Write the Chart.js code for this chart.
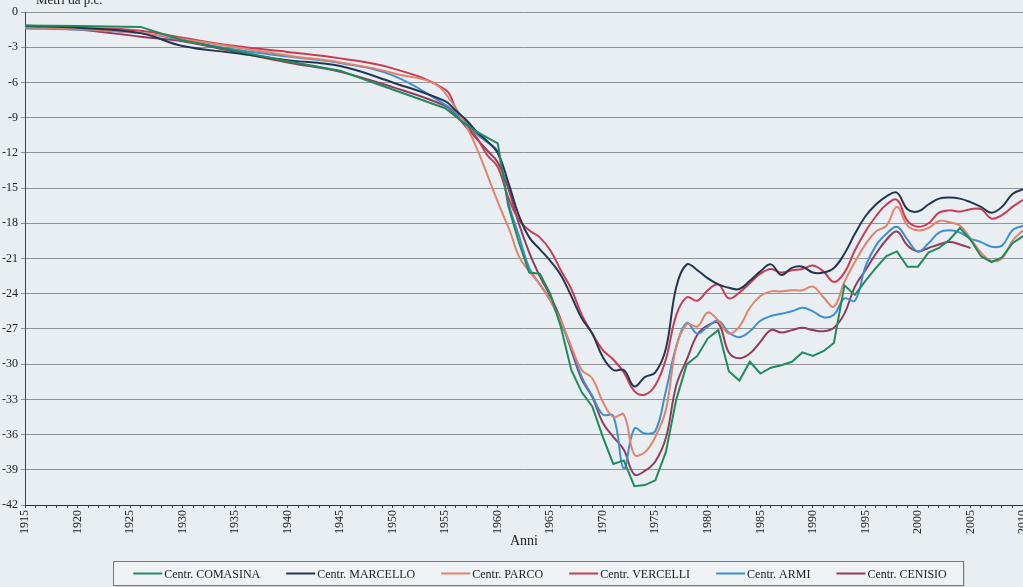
<!DOCTYPE html>
<html lang="it">
<head>
<meta charset="UTF-8">
<title>Metri da p.c. - Anni</title>
<script src="https://cdn.jsdelivr.net/npm/chart.js"></script>
<style>
    html, body {
        margin: 0;
        padding: 0;
        background: #e8eef1;
    }
    #wrap {
        width: 1023px;
        height: 587px;
        position: relative;
    }
</style>
</head>
<body>
<div id="wrap"><canvas id="chart"></canvas></div>
<script>
// sample years (sparse before 1955, yearly afterwards)
const years = [1915, 1920, 1926, 1930, 1935, 1940, 1945, 1950, 1955,
    1956, 1957, 1958, 1959, 1960, 1961, 1962, 1963, 1964, 1965,
    1966, 1967, 1968, 1969, 1970, 1971, 1972, 1973, 1974, 1975,
    1976, 1977, 1978, 1979, 1980, 1981, 1982, 1983, 1984, 1985,
    1986, 1987, 1988, 1989, 1990, 1991, 1992, 1993, 1994, 1995,
    1996, 1997, 1998, 1999, 2000, 2001, 2002, 2003, 2004, 2005,
    2006, 2007, 2008, 2009, 2010];

const seriesNames = ['Centr. COMASINA', 'Centr. MARCELLO', 'Centr. PARCO',
    'Centr. VERCELLI', 'Centr. ARMI', 'Centr. CENISIO'];

const comasina = [-1.15, -1.2, -1.27, -2.4, -3.3, -4.2, -5.0, -6.6, -8.2,
    -8.9, -9.6, -10.2, -10.7, -11.2, -16.5, -19.6, -22.2, -22.3, -24.0,
    -26.8, -30.5, -32.4, -33.6, -36.2, -38.5, -38.2, -40.4, -40.3, -39.9,
    -37.5, -33.0, -30.0, -29.3, -27.8, -27.1, -30.6, -31.4, -29.8, -30.8,
    -30.3, -30.1, -29.8, -29.0, -29.3, -28.9, -28.2, -23.3, -24.1, -22.9,
    -21.8, -20.8, -20.4, -21.7, -21.7, -20.5, -20.1, -19.4, -18.4, -19.4,
    -20.8, -21.3, -20.9, -19.7, -19.1];

const marcello = [-1.2, -1.35, -1.8, -2.9, -3.5, -4.1, -4.6, -6.0, -7.6,
    -8.4, -9.2, -10.2, -11.0, -12.0, -14.5, -17.3, -19.2, -20.2, -21.2,
    -22.4, -24.2, -26.1, -27.4, -29.4, -30.5, -30.5, -31.9, -31.1, -30.7,
    -28.7, -23.4, -21.5, -22.0, -22.7, -23.2, -23.5, -23.6, -22.9, -22.1,
    -21.5, -22.4, -21.8, -21.7, -22.2, -22.2, -21.8, -20.6, -18.9, -17.4,
    -16.4, -15.7, -15.4, -16.8, -17.0, -16.4, -15.9, -15.8, -15.9, -16.2,
    -16.6, -17.1, -16.6, -15.5, -15.1];

const parco = [-1.3, -1.45, -1.8, -2.3, -3.0, -3.7, -4.3, -5.2, -6.9,
    null, null, null, null, null, -18.3, -20.8, -22.1, -23.2, -24.6,
    -26.3, -28.5, -30.5, -31.2, -33.2, -34.5, -34.3, -37.7, -37.5, -36.2,
    -33.9, -28.5, -26.6, -26.8, -25.6, -26.3, -27.4, -26.8, -25.2, -24.2,
    -23.8, -23.8, -23.7, -23.7, -23.4, -24.3, -25.1, -23.0, -21.3, -19.8,
    -18.7, -18.2, -16.6, -18.2, -18.6, -18.4, -17.8, -17.9, -18.2, -19.3,
    -20.5, -21.2, -21.0, -19.5, -18.6];

const vercelli = [-1.15, -1.35, -1.6, -2.2, -2.9, -3.4, -3.95, -4.8, -6.6,
    -8.2, -9.6, -10.7, -12.2, -13.2, -15.8, -17.7, -18.6, -19.2, -20.3,
    -22.0, -23.6, -25.8, -27.4, -28.8, -29.6, -30.7, -32.3, -32.6, -31.8,
    -29.6, -25.8, -24.3, -24.6, -23.7, -23.2, -24.4, -23.9, -23.1, -22.3,
    -21.9, -22.2, -22.0, -21.9, -21.6, -22.1, -23.0, -22.2, -20.3, -18.7,
    -17.4, -16.4, -16.0, -17.8, -18.3, -18.0, -17.1, -16.9, -17.0, -16.8,
    -16.8, -17.6, -17.3, -16.6, -16.0];

const armi = [-1.4, -1.5, -1.8, -2.4, -3.2, -3.8, -4.35, -5.4, -7.9,
    -8.6, -9.4, -10.4, -11.1, -11.9, -16.2, -19.0, -21.8, -23.2, -24.5,
    -26.5, -28.6, -31.1, -32.7, -34.3, -34.4, -38.9, -35.5, -35.9, -35.7,
    -32.3, -28.5, -26.5, -27.4, -26.8, -26.3, -27.3, -27.7, -27.2, -26.3,
    -25.9, -25.7, -25.5, -25.2, -25.5, -26.0, -25.8, -24.4, -24.6, -21.7,
    -19.9, -18.9, -18.3, -19.4, -20.4, -19.7, -18.8, -18.6, -18.8, -19.3,
    -19.6, -20.0, -19.9, -18.6, -18.2];

const cenisio = [-1.3, -1.5, -2.1, -2.5, -3.4, -4.3, -5.1, -6.4, -8.0,
    -8.8, -9.8, -10.8, -11.8, -12.8, -15.0, -18.0, -20.5, -22.5, -24.2,
    -26.2, -28.8, -31.3, -32.8, -35.0, -36.2, -37.3, -39.4, -39.1, -38.3,
    -36.3, -31.8, -29.6, -27.5, -26.7, -26.5, -29.0, -29.5, -29.1, -28.1,
    -27.1, -27.3, -27.1, -26.9, -27.1, -27.2, -26.9, -25.7, -23.4, -22.0,
    -20.6, -19.4, -18.7, -19.9, -20.4, -20.1, -19.8, -19.6, -19.8, -20.1,
    null, null, null, null, null];

const seriesValues = [comasina, marcello, parco, vercelli, armi, cenisio];
const seriesColors = ['#1f8b5d', '#22364f', '#e2836c', '#c93c55', '#3f8fd0', '#963a5d'];
const seriesTension = [0, 0.4, 0.4, 0.4, 0.4, 0.4];

const serif = '"Liberation Serif", "Times New Roman", serif';

// boxed legend at the bottom + clipped y title at the top
const boxLegend = {
    id: 'boxLegend',
    afterDraw(chart) {
        const ctx = chart.ctx;
        ctx.save();

        // axis title, cut by the top edge like in the scan
        ctx.font = '13px ' + serif;
        ctx.fillStyle = '#222';
        ctx.textBaseline = 'alphabetic';
        ctx.textAlign = 'left';
        ctx.fillText('Metri da p.c.', 36, 4);

        // legend frame
        ctx.fillStyle = 'rgba(0,0,0,0.10)';
        ctx.fillRect(115, 564, 850, 24);
        ctx.fillStyle = '#eef2f4';
        ctx.fillRect(113, 561, 850, 24);
        ctx.strokeStyle = '#777';
        ctx.lineWidth = 1;
        ctx.strokeRect(113.5, 561.5, 850, 24);

        ctx.font = '12px ' + serif;
        const lineLen = 29, gapText = 2, gapItem = 26;
        const items = chart.data.datasets.map(d => ({
            text: d.label, color: d.borderColor, w: ctx.measureText(d.label).width
        }));
        const total = items.reduce((s, it) => s + lineLen + gapText + it.w, 0) + gapItem * (items.length - 1);
        let x = 540 - total / 2;
        const y = 573.5;
        ctx.textBaseline = 'middle';
        items.forEach(it => {
            ctx.strokeStyle = it.color;
            ctx.lineWidth = 2;
            ctx.beginPath();
            ctx.moveTo(x, y);
            ctx.lineTo(x + lineLen, y);
            ctx.stroke();
            ctx.fillStyle = '#222';
            ctx.fillText(it.text, x + lineLen + gapText, y + 1);
            x += lineLen + gapText + it.w + gapItem;
        });
        ctx.restore();
    }
};

const datasets = seriesNames.map((name, i) => ({
    label: name,
    data: years.map((yr, j) => ({x: yr, y: seriesValues[i][j]})),
    borderColor: seriesColors[i],
    backgroundColor: seriesColors[i],
    borderWidth: 2,
    pointRadius: 0,
    tension: seriesTension[i],
    spanGaps: true,
    fill: false
}));

new Chart(document.getElementById('chart'), {
    type: 'line',
    data: {datasets: datasets},
    options: {
        responsive: true,
        maintainAspectRatio: false,
        animation: false,
        layout: {padding: {top: 12, right: 0, bottom: 40, left: 0}},
        plugins: {
            legend: {display: false},
            tooltip: {enabled: false}
        },
        scales: {
            x: {
                type: 'linear',
                min: 1915,
                max: 2010,
                grid: {drawOnChartArea: false, drawTicks: true, tickLength: 3, color: '#444'},
                border: {color: '#333', width: 1},
                ticks: {
                    stepSize: 1,
                    autoSkip: false,
                    maxRotation: 90,
                    minRotation: 90,
                    padding: 2,
                    color: '#222',
                    font: {family: serif, size: 12},
                    callback: v => (v % 5 === 0 ? String(v) : '')
                },
                title: {
                    display: true,
                    text: 'Anni',
                    color: '#222',
                    font: {family: serif, size: 14},
                    padding: {top: 0, bottom: -3}
                },
                afterFit(scale) {
                    scale.height = 42;
                    scale.paddingLeft = 0;
                    scale.paddingRight = 0;
                }
            },
            y: {
                min: -42,
                max: 0,
                grid: {color: '#8f9498', lineWidth: 1, tickLength: 4},
                border: {color: '#444', width: 1},
                ticks: {
                    stepSize: 3,
                    padding: 3,
                    color: '#222',
                    font: {family: serif, size: 12},
                    callback: v => String(v)
                },
                afterFit(scale) {
                    scale.width = 25;
                    scale.paddingTop = 0;
                    scale.paddingBottom = 0;
                }
            }
        }
    },
    plugins: [boxLegend]
});
</script>
</body>
</html>
